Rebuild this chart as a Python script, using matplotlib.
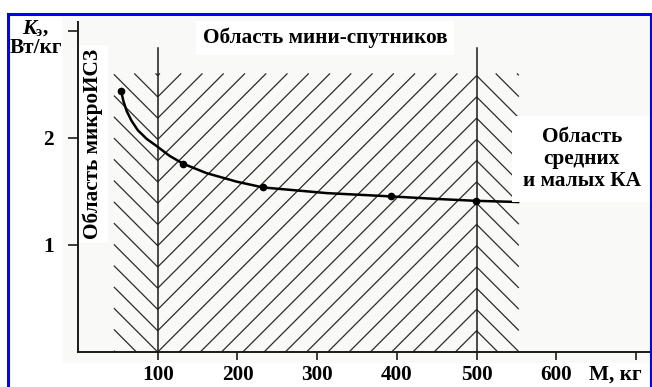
import matplotlib
matplotlib.use('Agg')
import matplotlib.pyplot as plt
from matplotlib.lines import Line2D
from matplotlib.patches import Rectangle

# curve (mass, kg -> specific power, W/kg)
curve_m = [54, 57, 61, 67, 75, 86, 99, 115, 132, 161, 199, 232, 312, 393,
           446, 499, 552]
curve_k = [2.44, 2.34, 2.25, 2.16, 2.07, 1.99, 1.92, 1.83, 1.757, 1.67,
           1.59, 1.536, 1.483, 1.452, 1.43, 1.411, 1.40]
point_m = [54, 132, 232, 393, 499]
point_k = [2.44, 1.757, 1.536, 1.452, 1.411]

x_ticks = [100, 200, 300, 400, 500, 600, 700]
x_labels = ['100', '200', '300', '400', '500', '600', '']
y_ticks = [1, 2, 3]
y_labels = ['1', '2', '']

# zones: (start, end, hatch direction)
zones = [(45, 100, '\\'), (100, 500, '/'), (500, 553, '\\')]
zone_top = 2.6
border_m = [100, 500]
border_top = 2.84

W, H = 652, 387
FONT = 'Liberation Serif'
FS = 15.3


def hatch(ax, x0, x1, top, kind, anchor, step):
    '''Draw 45 degree hatch lines in pixel space, clipped to a data box'''
    tr = ax.transData
    xa, ya = tr.transform((x0, 0))
    xb, yb = tr.transform((x1, top))
    ax0, ay0 = anchor
    base = ay0 - ax0 if kind == '/' else ay0 + ax0
    k_lo = int((-4 * W) // step)
    k_hi = int((4 * W) // step)
    inv = tr.inverted()
    for k in range(k_lo, k_hi):
        c = base + k * step
        if kind == '/':
            lo, hi = max(xa, ya - c), min(xb, yb - c)
            if hi <= lo:
                continue
            p = [(lo, lo + c), (hi, hi + c)]
        else:
            lo, hi = max(xa, c - yb), min(xb, c - ya)
            if hi <= lo:
                continue
            p = [(lo, c - lo), (hi, c - hi)]
        d = inv.transform(p)
        ax.plot(d[:, 0], d[:, 1], color='#2b2b2b', lw=0.9, zorder=2,
                solid_capstyle='butt')


def main():
    fig = plt.figure(figsize=(W / 100, H / 100), dpi=100)
    fig.patch.set_facecolor('white')

    # faint grey background of the scanned drawing
    fig.patches.append(Rectangle((63 / W, 25 / H), (W - 63) / W, 345 / H,
                                 transform=fig.transFigure, color='#f9f9f7',
                                 zorder=-5))

    ax = fig.add_axes([78 / W, 35 / H, 574 / W, 330 / H])
    ax.set_zorder(1)
    ax.set_facecolor('none')
    ax.set_xlim(0, 720)
    ax.set_ylim(0, 3.08)
    for s in ['top', 'right']:
        ax.spines[s].set_visible(False)
    for s in ['left', 'bottom']:
        ax.spines[s].set_linewidth(1.4)
        ax.spines[s].set_color('#1a1a1a')

    ax.set_xticks(x_ticks)
    ax.set_xticklabels(x_labels)
    ax.set_yticks(y_ticks)
    ax.set_yticklabels(y_labels)
    ax.tick_params(axis='x', direction='out', length=6, width=1.2, pad=3,
                   color='#1a1a1a')
    ax.tick_params(axis='y', direction='out', length=7.5, width=1.2, pad=10,
                   color='#1a1a1a')
    for lab in ax.get_xticklabels() + ax.get_yticklabels():
        lab.set_fontfamily(FONT)
        lab.set_fontweight('bold')
        lab.set_fontsize(FS)

    # hatched zones, chevrons meet on the border lines
    tr = ax.transData
    x100 = tr.transform((100, 0))
    x500 = tr.transform((500, 0))
    step = 2 * (x500[0] - x100[0]) / 30
    for z0, z1, kind in zones:
        hatch(ax, z0, z1, zone_top, kind, x100, step)

    for m in border_m:
        ax.plot([m, m], [0, border_top], color='#1a1a1a', lw=1.1, zorder=3)

    ax.plot(curve_m, curve_k, color='black', lw=1.8, zorder=4,
            solid_joinstyle='round')
    ax.plot(point_m, point_k, 'o', color='black', ms=4.5, zorder=5)

    box = dict(facecolor='white', edgecolor='none', pad=5)
    ax.text(310, 2.93, 'Область мини-спутников', ha='center', va='center',
            fontfamily=FONT, fontweight='bold', fontsize=FS, bbox=box,
            zorder=6)
    ax.text(19, 1.94, 'Область микроИСЗ', ha='center', va='center',
            rotation=90, fontfamily=FONT, fontweight='bold', fontsize=FS,
            bbox=dict(facecolor='white', edgecolor='none', pad=3), zorder=6)
    ax.text(632, 1.80, 'Область\nсредних\nи малых КА', ha='center',
            va='center', fontfamily=FONT, fontweight='bold', fontsize=FS,
            linespacing=1.15, bbox=dict(facecolor='white', edgecolor='none',
                                        pad=8), zorder=6)

    # axis captions outside the axes
    fig.text(615 / W, 1 - 375 / H, 'М, кг', ha='center', va='center',
             fontfamily=FONT, fontweight='bold', fontsize=FS)
    fig.text(36 / W, 1 - 48 / H, 'Вт/кг', ha='center', va='center',
             fontfamily=FONT, fontweight='bold', fontsize=FS)
    fig.text(29 / W, 1 - 29 / H, 'К', ha='center', va='center',
             fontfamily=FONT, fontweight='bold', style='italic', fontsize=FS)
    fig.text(38.5 / W, 1 - 33 / H, 'э', ha='center', va='center',
             fontfamily=FONT, fontweight='bold', fontsize=FS - 5)
    fig.text(45 / W, 1 - 28 / H, ',', ha='center', va='center',
             fontfamily=FONT, fontweight='bold', fontsize=FS)

    # blue frame
    blue = dict(color='#0000ff', lw=2.2, transform=fig.transFigure)
    fig.lines.append(Line2D([8 / W, 8 / W], [0, 1 - 14 / H], **blue))
    fig.lines.append(Line2D([8 / W, 651 / W], [1 - 14 / H, 1 - 14 / H], **blue))
    fig.lines.append(Line2D([651 / W, 651 / W], [0, 1 - 14 / H], **blue))

    fig.savefig('out.png', dpi=100)


if __name__ == "__main__":
    main()
